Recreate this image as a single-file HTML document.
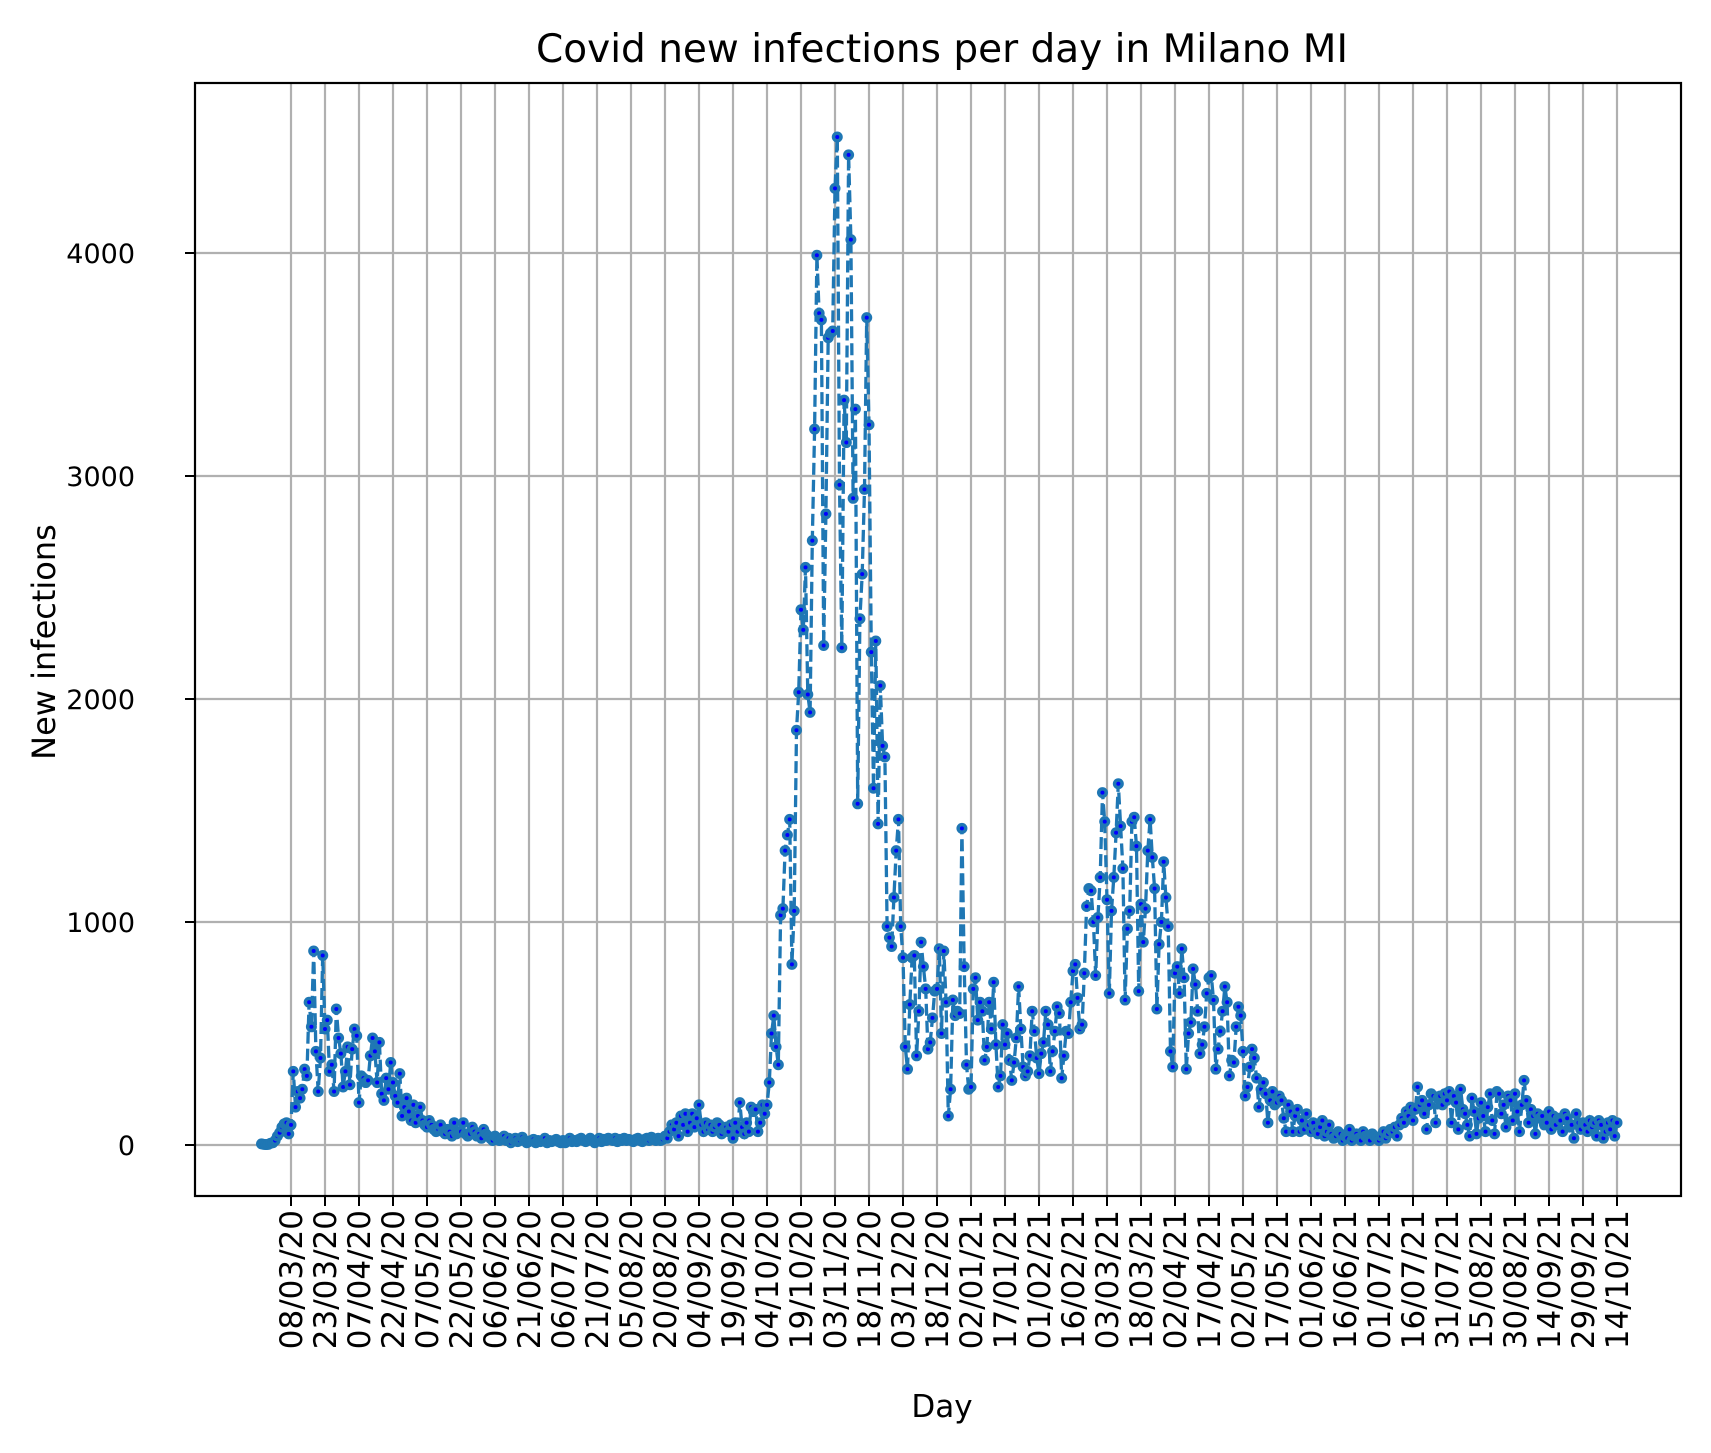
<!DOCTYPE html>
<html><head><meta charset="utf-8"><style>
html,body{margin:0;padding:0;background:#fff}
svg{display:block;font-family:"DejaVu Sans","Liberation Sans",sans-serif}
</style></head><body>
<svg id="chart" width="1711" height="1453" viewBox="0 0 1711 1453" xmlns="http://www.w3.org/2000/svg">
<rect x="0" y="0" width="1711" height="1453" fill="#fff"/>
<text x="942" y="62" font-size="39" text-anchor="middle">Covid new infections per day in Milano MI</text>
<g id="grid"></g>
<g id="series"></g>
<rect x="195" y="83" width="1486" height="1113" fill="none" stroke="#000" stroke-width="2.2"/>
<g id="axes"></g>
<text x="942" y="1417" font-size="31" text-anchor="middle">Day</text>
<text x="0" y="0" font-size="32" text-anchor="middle" transform="translate(55,642) rotate(-90)">New infections</text>
</svg>
<script>
const startOffset = -13; // first data point is 13 days before first tick (24/02/20)
const values = [
5,3,2,3,8,10,20,40,55,80,95,100,50,
90,330,170,240,210,250,340,310,640,530,870,420,240,390,850,
520,560,330,360,240,610,480,410,260,330,440,270,430,520,490,
190,310,300,280,290,400,480,420,280,460,230,200,300,250,370,
280,220,190,320,130,170,210,150,110,180,100,130,170,110,90,
80,110,90,70,60,70,90,60,50,70,60,40,100,50,60,
60,100,50,40,50,80,60,40,50,30,70,50,40,30,20,
40,30,20,30,40,20,30,10,25,30,15,20,35,20,10,
15,20,25,10,20,15,20,30,10,20,15,20,25,15,10,
20,10,20,30,15,20,15,25,30,20,15,20,30,20,10,
20,30,15,25,20,30,25,20,30,15,25,20,30,20,25,
20,15,25,30,20,15,25,30,20,35,25,20,30,20,25,
40,30,60,90,70,100,40,130,90,140,60,100,140,80,120,
180,90,60,100,70,90,60,80,100,90,50,70,80,60,90,
30,100,60,190,80,50,100,60,170,150,160,60,100,180,140,
180,280,500,580,440,360,1030,1060,1320,1390,1460,810,1050,1860,2030,
2400,2310,2590,2020,1940,2710,3210,3990,3730,3700,2240,2830,3620,3640,3650,
4290,4520,2960,2230,3340,3150,4440,4060,2900,3300,1530,2360,2560,2940,3710,
3230,2210,1600,2260,1440,2060,1790,1740,980,930,890,1110,1320,1460,980,
840,440,340,630,840,850,400,600,910,800,700,430,460,570,690,
700,880,500,870,640,130,250,650,580,600,590,1420,800,360,250,
260,700,750,560,640,600,380,440,640,520,730,450,260,310,540,
450,500,380,290,370,480,710,520,350,310,330,400,600,510,390,
320,410,460,600,540,330,420,510,620,590,300,400,510,500,640,
780,810,660,520,540,770,1070,1150,1140,1000,760,1020,1200,1580,1450,
1100,680,1050,1200,1400,1620,1430,1240,650,970,1050,1450,1470,1340,690,
1080,910,1060,1320,1460,1290,1150,610,900,1000,1270,1110,980,420,350,
770,800,680,880,750,340,500,550,790,720,600,410,450,530,680,
750,760,650,340,430,510,600,710,640,310,380,370,530,620,580,
420,220,260,350,430,390,300,170,250,280,230,100,200,240,180,
190,220,200,120,60,180,150,60,130,160,60,110,70,140,90,
60,100,70,50,80,110,40,60,90,50,30,40,60,50,20,
40,30,70,20,40,50,30,20,60,40,30,20,50,40,30,
20,40,60,30,50,70,60,80,40,90,120,100,150,130,170,
110,160,260,180,200,140,70,180,230,220,100,210,220,180,230,
200,240,100,220,190,70,250,160,140,90,40,210,150,50,120,
190,130,60,170,230,110,50,240,230,140,180,80,220,200,110,
230,150,60,180,290,200,100,160,130,50,140,120,130,90,100,
150,70,130,90,120,110,60,140,120,80,90,30,140,100,70,
100,90,60,110,80,100,40,110,90,30,60,100,70,110,40,100
];
const xTickLabels = ["08/03/20","23/03/20","07/04/20","22/04/20","07/05/20","22/05/20","06/06/20","21/06/20","06/07/20","21/07/20","05/08/20","20/08/20","04/09/20","19/09/20","04/10/20","19/10/20","03/11/20","18/11/20","03/12/20","18/12/20","02/01/21","17/01/21","01/02/21","16/02/21","03/03/21","18/03/21","02/04/21","17/04/21","02/05/21","17/05/21","01/06/21","16/06/21","01/07/21","16/07/21","31/07/21","15/08/21","30/08/21","14/09/21","29/09/21","14/10/21"];
const xTickDays = [0,15,30,45,60,75,90,105,120,135,150,165,180,195,210,225,240,255,270,285,300,315,330,345,360,375,390,405,420,435,450,465,480,495,510,525,540,555,570,585];
const yTicks = [0,1000,2000,3000,4000];

const NS = "http://www.w3.org/2000/svg";
const X0 = 291, PXDAY = (1617-291)/585;
const Y0 = 1145, PXUNIT = (1145-253)/4000;
function xScale(d){ return X0 + d*PXDAY; }
function yScale(v){ return Y0 - v*PXUNIT; }
function mk(tag, attrs, parent){ const e=document.createElementNS(NS,tag); for(const k in attrs) e.setAttribute(k,attrs[k]); parent.appendChild(e); return e; }

const grid=document.getElementById('grid'), axes=document.getElementById('axes'), series=document.getElementById('series');
xTickDays.forEach((d,i)=>{
  const x=xScale(d);
  const gl=mk('line',{x1:x,x2:x,y1:83,y2:1196,stroke:'#b0b0b0','stroke-width':2.2},grid);
  
  
  const tk=mk('line',{x1:x,x2:x,y1:1196,y2:1206,stroke:'#000','stroke-width':2},axes);
  
  
  const t=mk('text',{x:0,y:0,'font-size':31,'text-anchor':'end',transform:`translate(${x+11},1210) rotate(-90)`},axes);
  t.textContent=xTickLabels[i];
  
  
});
yTicks.forEach(v=>{
  const y=yScale(v);
  const gl=mk('line',{x1:195,x2:1681,y1:y,y2:y,stroke:'#b0b0b0','stroke-width':2.2},grid);
  
  
  const tk=mk('line',{x1:185,x2:195,y1:y,y2:y,stroke:'#000','stroke-width':2},axes);
  
  
  const t=mk('text',{x:135,y:y+10,'font-size':27,'text-anchor':'end'},axes);
  t.textContent=String(v);
  
  
});
const pts=values.map((v,i)=>[xScale(i+startOffset),yScale(v)]);
const line=mk('polyline',{points:pts.map(p=>p[0].toFixed(1)+','+p[1].toFixed(1)).join(' '),fill:'none',stroke:'#1f77b4','stroke-width':3.3,'stroke-dasharray':'12,5'},series);


pts.forEach(p=>{
  const c=mk('circle',{cx:p[0],cy:p[1],r:5.5,fill:'#1f77b4'},series);
  
  
  const c2=mk('circle',{cx:p[0],cy:p[1],r:2,fill:'#0000ff'},series);
  
  
});
</script>
</body></html>
